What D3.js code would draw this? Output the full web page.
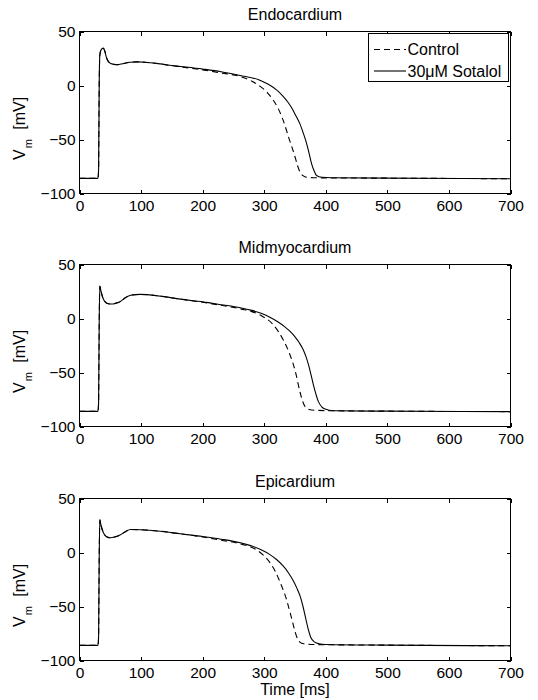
<!DOCTYPE html>
<html>
<head>
<meta charset="utf-8">
<script src="https://cdn.jsdelivr.net/npm/d3@7"></script>
<style>
body{margin:0;background:#fff}
text{font-family:"Liberation Sans",Arial,Helvetica,sans-serif;fill:#000}
</style>
</head>
<body>
<div id="chart"></div>
<script>
//axis ticks and names
const timeTicks=[0,100,200,300,400,500,600,700];
const vTicks=[-100,-50,0,50];
const panelNames=["Endocardium","Midmyocardium","Epicardium"];
const seriesNames=["Control","30\u03bcM Sotalol"];

//[time ms, Vm mV]
const endoControl=[[0,-86],[30,-86],[31,-78],[32,0],[33,28],[35,33],[38.5,34.6],[41,32],[44,25.5],[48,21.5],[54,19.8],[62,19.3],[70,20.2],[82,21.5],[95,21.9],[110,21.3],[131,20],[150,18.3],[164,17.3],[200,14.5],[230,11.6],[261,8.3],[280,4],[294,-1],[305,-6.5],[315,-13.9],[322,-20.5],[328.6,-29],[334,-37.5],[339.5,-47.8],[345,-57],[350,-66],[354,-74],[358,-80],[363,-83.5],[369,-85],[390,-85.5],[500,-85.8],[700,-86.3]];
const endoSotalol=[[0,-86],[30,-86],[31,-78],[32,0],[33,28],[35,33],[38.5,34.6],[41,32],[44,25.5],[48,21.5],[54,19.8],[62,19.3],[70,20.2],[82,21.5],[95,21.9],[110,21.3],[131,20],[150,18.5],[164,17.6],[200,15.2],[230,12.8],[261,9.3],[290,5.5],[300,3],[310,0],[320,-4],[330,-9.5],[338,-15],[345,-21],[351,-27.5],[358,-35.5],[364,-45],[369,-54],[373,-63],[377,-72.5],[381,-79],[385,-83.3],[393.5,-85],[410,-85.4],[500,-85.8],[700,-86.3]];

const midControl=[[0,-86],[30,-86],[31,-78],[32,-5],[33,30],[35,25],[38,19],[42,15.2],[47,13.6],[52,13.4],[58,14],[66.5,15.8],[75,19.5],[83,21.6],[99,22.3],[131,20.7],[164,17.9],[200,15],[230,12.2],[261,9],[293.5,3.2],[315,-6],[331,-19.9],[342,-33.8],[350.5,-49],[358,-67.8],[362,-76],[366.5,-81.7],[372,-84],[377,-84.7],[400,-85.3],[500,-85.8],[700,-86.2]];
const midSotalol=[[0,-86],[30,-86],[31,-78],[32,-5],[33,30],[35,25],[38,19],[42,15.2],[47,13.6],[52,13.4],[58,14],[66.5,15.8],[75,19.5],[83,21.6],[99,22.3],[131,20.7],[164,17.9],[200,15.4],[230,12.8],[261,10],[280,7.5],[295,4.8],[310,1],[322,-3],[333,-7.5],[342,-12],[350,-17],[357,-22.5],[363,-28.5],[368,-35.5],[372,-43],[376,-52],[380,-61.6],[384,-70],[388,-77],[393,-81.5],[399,-83.8],[412,-85.4],[500,-85.8],[700,-86.2]];

const epiControl=[[0,-86],[30,-86],[31,-78],[32,-5],[33,30.3],[35,25],[38,19.5],[42,15.5],[46,14],[50,13.6],[57,14.3],[66.5,16.4],[75,19.5],[83,21.3],[99,21.1],[131,19.7],[164,17.3],[200,14.4],[230,11.4],[261,8],[290,1.5],[310,-10],[318,-17.5],[325.4,-27],[331,-35],[336.5,-44],[341,-53.5],[345,-62],[349,-71],[353,-78.5],[358,-83],[364,-84.5],[380,-85.2],[500,-85.8],[700,-86.3]];
const epiSotalol=[[0,-86],[30,-86],[31,-78],[32,-5],[33,30.3],[35,25],[38,19.5],[42,15.5],[46,14],[50,13.6],[57,14.3],[66.5,16.4],[75,19.5],[83,21.3],[99,21.1],[131,19.7],[164,17.3],[200,14.8],[230,12.3],[261,9],[280,6],[295,2.5],[308,-1.5],[320,-6.5],[330,-12],[339,-18.5],[347,-26],[353,-33],[359,-41.6],[363,-50],[367,-60],[371,-70],[375.5,-78.4],[382,-83],[389,-84.5],[400,-85.2],[500,-85.8],[700,-86.3]];

const panelData=[[endoControl,endoSotalol],[midControl,midSotalol],[epiControl,epiSotalol]];

const w=538;
const h=700;
const left=79.5, right=510.5;
const panelTops=[31.5,264.5,498.5];
const ph=162;
const dash="6,4";

const svg=d3.select("#chart")
            .append("svg")
            .attr("width",w)
            .attr("height",h);

const x=d3.scaleLinear().domain([0,700]).range([left,right]);

panelNames.forEach((name,i)=>{
    const top=panelTops[i];
    const y=d3.scaleLinear().domain([-100,50]).range([top+ph,top]);
    const g=svg.append("g");

    //ticks pointing inward on all four sides
    const ax=[
        g.append("g").attr("transform","translate(0,"+(top+ph)+")")
         .call(d3.axisBottom(x).tickValues(timeTicks).tickSize(-4).tickSizeOuter(0).tickPadding(6.5)),
        g.append("g").attr("transform","translate(0,"+top+")")
         .call(d3.axisTop(x).tickValues(timeTicks).tickSize(-4).tickSizeOuter(0).tickFormat("")),
        g.append("g").attr("transform","translate("+left+",0)")
         .call(d3.axisLeft(y).tickValues(vTicks).tickSize(-4).tickSizeOuter(0).tickPadding(4)),
        g.append("g").attr("transform","translate("+right+",0)")
         .call(d3.axisRight(y).tickValues(vTicks).tickSize(-4).tickSizeOuter(0).tickFormat(""))
    ];
    ax.forEach(a=>{
        a.select(".domain").remove();
        a.selectAll("line").attr("stroke","#000").attr("shape-rendering","crispEdges");
        a.selectAll("text").attr("font-size","15.5px").attr("font-family","Liberation Sans, Arial, sans-serif").attr("fill","#000");
    });

    g.append("rect")
        .attr("x",left).attr("y",top)
        .attr("width",right-left).attr("height",ph)
        .attr("fill","none").attr("stroke","#000")
        .attr("shape-rendering","crispEdges");

    const line=d3.line()
                .x(d=>x(d[0]))
                .y(d=>y(d[1]))
                .curve(d3.curveMonotoneX);

    panelData[i].forEach((s,j)=>{
        g.append("path")
            .datum(s)
            .attr("d",line)
            .attr("fill","none")
            .attr("stroke","#000")
            .attr("stroke-width",1.1)
            .attr("stroke-dasharray",j==0?dash:null);
    });

    //title
    g.append("text")
        .attr("x",(left+right)/2)
        .attr("y",top-12)
        .attr("text-anchor","middle")
        .attr("font-size","16px")
        .text(name);

    //y label V_m [mV]
    const yl=g.append("text")
        .attr("transform","translate(25,"+(top+128.5)+") rotate(-90)")
        .attr("font-size","16px");
    yl.append("tspan").text("V");
    yl.append("tspan").attr("font-size","11px").attr("dx",1).attr("dy",7).text("m");
    yl.append("tspan").attr("dx",5).attr("dy",-7).text(" [mV]");
});

//x label
svg.append("text")
    .attr("x",(left+right)/2)
    .attr("y",695)
    .attr("text-anchor","middle")
    .attr("font-size","16px")
    .text("Time [ms]");

//legend in the first panel
const legend=svg.append("g");
legend.append("rect")
    .attr("x",368.5).attr("y",33.5)
    .attr("width",140).attr("height",48)
    .attr("fill","#fff").attr("stroke","#000")
    .attr("shape-rendering","crispEdges");
seriesNames.forEach((n,j)=>{
    const ly=49.5+j*21.5;
    legend.append("line")
        .attr("x1",374).attr("x2",406)
        .attr("y1",ly).attr("y2",ly)
        .attr("stroke","#000")
        .attr("stroke-width",1.1)
        .attr("stroke-dasharray",j==0?dash:null);
    legend.append("text")
        .attr("x",407.5)
        .attr("y",ly+5.5)
        .attr("font-size","16px")
        .text(n);
});
</script>
</body>
</html>
